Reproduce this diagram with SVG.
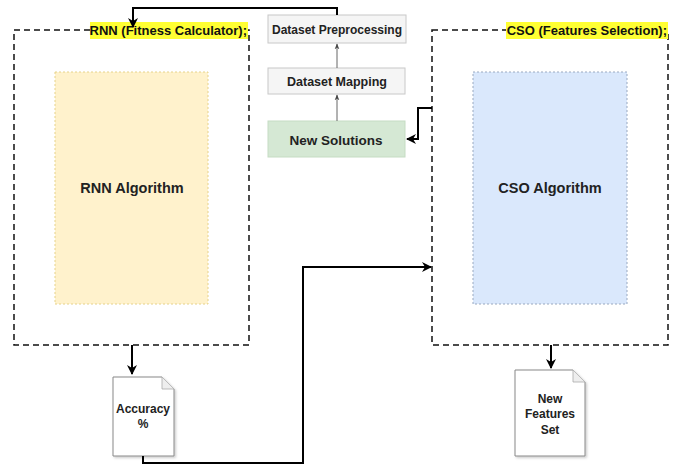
<svg xmlns="http://www.w3.org/2000/svg" width="684" height="466" viewBox="0 0 684 466">
<defs>
<style>
.cont{fill:none;stroke:#111;stroke-width:1.5;stroke-dasharray:6 4}
.lbl{font-family:"Liberation Sans",Arial,sans-serif;font-weight:bold;font-size:13px;fill:#111}
.hl{fill:#ffff33}
.box{stroke:#c8c8c8;stroke-width:1}
.t{font-family:"Liberation Sans",Arial,sans-serif;font-weight:bold;text-anchor:middle;fill:#222}
.doc{fill:#fff;stroke:#888;stroke-width:1}
.conn{fill:none;stroke:#000;stroke-width:2}
.thin{fill:none;stroke:#666;stroke-width:1}
</style>
<marker id="ah" viewBox="0 0 10 10" refX="9" refY="5" markerWidth="5" markerHeight="5" orient="auto" markerUnits="strokeWidth">
<path d="M0,0 L10,5 L0,10 L3,5 z" fill="#000"/>
</marker>
<marker id="ahs" viewBox="0 0 10 10" refX="9" refY="5" markerWidth="6" markerHeight="6" orient="auto" markerUnits="strokeWidth">
<path d="M0,1 L10,5 L0,9 L3,5 z" fill="#444"/>
</marker>
<filter id="sh" x="-10%" y="-10%" width="130%" height="130%">
<feDropShadow dx="1.5" dy="1.5" stdDeviation="1" flood-color="#000" flood-opacity="0.2"/>
</filter>
</defs>
<rect width="684" height="466" fill="#fff"/>

<g id="rnn-container">
<rect class="cont" x="14" y="30" width="235" height="315"/>
<rect class="hl" x="90" y="22" width="158" height="17"/>
<text class="lbl" x="247" y="35" text-anchor="end">RNN (Fitness Calculator);</text>
</g>
<g id="rnn-algorithm">
<rect x="55" y="72" width="153" height="232" fill="#fff2cc" stroke="#e6d28a" stroke-width="1" stroke-dasharray="2 2"/>
<text class="t" x="132" y="193" font-size="14.5">RNN Algorithm</text>
</g>

<g id="cso-container">
<rect class="cont" x="432" y="30" width="236" height="315"/>
<rect class="hl" x="506" y="22" width="162" height="17"/>
<text class="lbl" x="667" y="35" text-anchor="end">CSO (Features Selection);</text>
</g>
<g id="cso-algorithm">
<rect x="473" y="72" width="154" height="232" fill="#dae8fc" stroke="#9aa9c0" stroke-width="1" stroke-dasharray="2 2"/>
<text class="t" x="550" y="193" font-size="14.5">CSO Algorithm</text>
</g>

<g id="dataset-preprocessing">
<rect class="box" x="268" y="15" width="138" height="28" fill="#f5f5f5"/>
<text class="t" x="337" y="34" font-size="12" fill="#333">Dataset Preprocessing</text>
</g>
<g id="dataset-mapping">
<rect class="box" x="268" y="68" width="137" height="26" fill="#f5f5f5"/>
<text class="t" x="337" y="86" font-size="12.5" fill="#333">Dataset Mapping</text>
</g>
<g id="new-solutions">
<rect x="268" y="121" width="137" height="36" fill="#d5e8d4" stroke="#c5dcc3" stroke-width="1"/>
<text class="t" x="336" y="145" font-size="13.5">New Solutions</text>
</g>

<g id="accuracy">
<path class="doc" filter="url(#sh)" d="M113,377 H162 L174,389 V456 H113 Z"/>
<path d="M162,377 V389 H174" fill="#eee" stroke="#aaa" stroke-width="0.8"/>
<text class="t" x="143" y="413" font-size="12">Accuracy</text>
<text class="t" x="143" y="428" font-size="12">%</text>
</g>
<g id="new-features-set">
<path class="doc" filter="url(#sh)" d="M515,370 H573 L585,382 V456 H515 Z"/>
<path d="M573,370 V382 H585" fill="#eee" stroke="#aaa" stroke-width="0.8"/>
<text class="t" x="550" y="403" font-size="12">New</text>
<text class="t" x="550" y="418" font-size="12">Features</text>
<text class="t" x="550" y="434" font-size="12">Set</text>
</g>

<g id="connectors">
<path class="conn" d="M337,15 V8 H133 V27" marker-end="url(#ah)"/>
<path class="thin" d="M337,68 V44" marker-end="url(#ahs)"/>
<path class="thin" d="M337,121 V95" marker-end="url(#ahs)"/>
<path class="conn" d="M432,108 H418 V139 H407" marker-end="url(#ah)"/>
<path class="conn" d="M132,345 V374" marker-end="url(#ah)"/>
<path class="conn" d="M551,345 V368" marker-end="url(#ah)"/>
<path class="conn" d="M143,456 V463 H303 V267 H431" marker-end="url(#ah)"/>
</g>
</svg>
